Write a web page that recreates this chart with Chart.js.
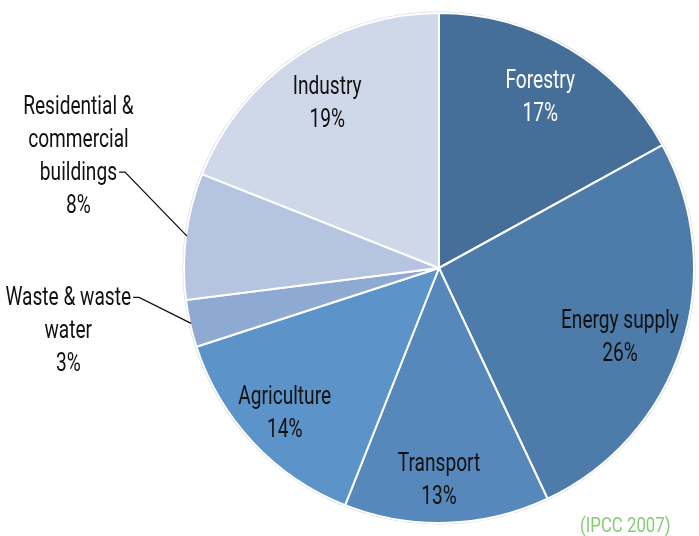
<!DOCTYPE html>
<html>
<head>
<meta charset="utf-8">
<script src="https://cdn.jsdelivr.net/npm/chart.js@4.4.1/dist/chart.umd.min.js"></script>
<style>
  html, body { margin: 0; padding: 0; background: #fff; }
  #wrap { position: relative; width: 699px; height: 536px; }
  #source { position: absolute; left: 580px; top: 513px; font: 21px Roboto, sans-serif; color: #86cc78;
            transform: scaleX(0.8); transform-origin: left top; }
</style>
</head>
<body>
<div id="wrap">
  <canvas id="pie" width="699" height="536"></canvas>
  <div id="source">(IPCC 2007)</div>
</div>
<script>
// sectors, clockwise from 12 o'clock
const sectors = ['Forestry', 'Energy supply', 'Transport', 'Agriculture', 'Waste & waste water', 'Residential & commercial buildings', 'Industry'];
const shares = [17, 26, 13, 14, 3, 8, 19];
const sliceColors = ['#456e98', '#4d7cab', '#5688bc', '#5c94c9', '#8eaad3', '#b5c4df', '#cfd8e9'];

// how each label is written (line by line)
const labelLines = [
  ['Forestry'], ['Energy supply'], ['Transport'], ['Agriculture'],
  ['Waste & waste', 'water'], ['Residential &', 'commercial', 'buildings'], ['Industry']
];

const FONT = '26px Roboto, sans-serif';
const SQUEEZE = 0.735; // the original uses a condensed face
// where each inside label sits: share of the radius, and a small turn (degrees) off the mid-angle
const labelDepth = [0.78, 0.76, 0.83, 0.83, 1, 1, 0.78];
const labelTurn = [0, 3, 1.8, 0, 0, 0, 0];

function squeezedText(c, t, x, y) {
  c.save();
  c.translate(x, y);
  c.scale(SQUEEZE, 1);
  c.fillText(t, 0, 0);
  c.restore();
}

const pieLabels = {
  id: 'pieLabels',
  beforeDatasetsDraw(chart) {
    // soft grey rim around the pie
    const arc = chart.getDatasetMeta(0).data[0];
    const c = chart.ctx;
    c.save();
    c.beginPath();
    c.arc(arc.x, arc.y, arc.outerRadius + 1.5, 0, Math.PI * 2);
    c.fillStyle = '#d4d4d4';
    c.fill();
    c.restore();
  },
  afterDatasetsDraw(chart) {
    const c = chart.ctx;
    const arcs = chart.getDatasetMeta(0).data;
    c.save();
    c.font = FONT;
    c.textAlign = 'center';
    c.textBaseline = 'middle';
    arcs.forEach((a, i) => {
      const mid = (a.startAngle + a.endAngle) / 2;
      const R = a.outerRadius;
      const lines = labelLines[i].concat([shares[i] + '%']);
      const lh = 33;
      if (shares[i] >= 10) {
        const ang = mid + labelTurn[i] * Math.PI / 180;
        const r = R * labelDepth[i];
        const cx = a.x + Math.cos(ang) * r;
        const cy = a.y + Math.sin(ang) * r + 1;
        c.fillStyle = i === 0 ? '#ffffff' : '#111111';
        lines.forEach((t, k) => squeezedText(c, t, cx, cy + (k - (lines.length - 1) / 2) * lh));
      } else {
        // outside label with leader line
        const ex = a.x + Math.cos(mid) * (R - 1);
        const ey = a.y + Math.sin(mid) * (R - 1);
        const anchorRow = i === 5 ? 2 : 0;
        const dx = i === 5 ? -62 : -52;
        const dy = i === 5 ? -64 : -26;
        const kx = ex + dx, ky = ey + dy;
        c.strokeStyle = '#111';
        c.lineWidth = 1.3;
        c.beginPath();
        c.moveTo(ex, ey);
        c.lineTo(kx, ky);
        c.lineTo(kx - 6, ky);
        c.stroke();
        const textW = c.measureText(labelLines[i][anchorRow]).width * SQUEEZE;
        const cx = kx - 8 - textW / 2;
        c.fillStyle = '#111111';
        lines.forEach((t, k) => squeezedText(c, t, cx, ky + 1 + (k - anchorRow) * lh));
      }
    });
    c.restore();
  }
};

new Chart(document.getElementById('pie'), {
  type: 'pie',
  data: {
    labels: sectors,
    datasets: [{
      data: shares,
      backgroundColor: sliceColors,
      borderColor: '#ffffff',
      borderWidth: 2
    }]
  },
  options: {
    responsive: false,
    animation: false,
    layout: { padding: { left: 183, right: 4, top: 12, bottom: 12 } },
    plugins: {
      legend: { display: false },
      tooltip: { enabled: false }
    }
  },
  plugins: [pieLabels]
});
</script>
</body>
</html>
